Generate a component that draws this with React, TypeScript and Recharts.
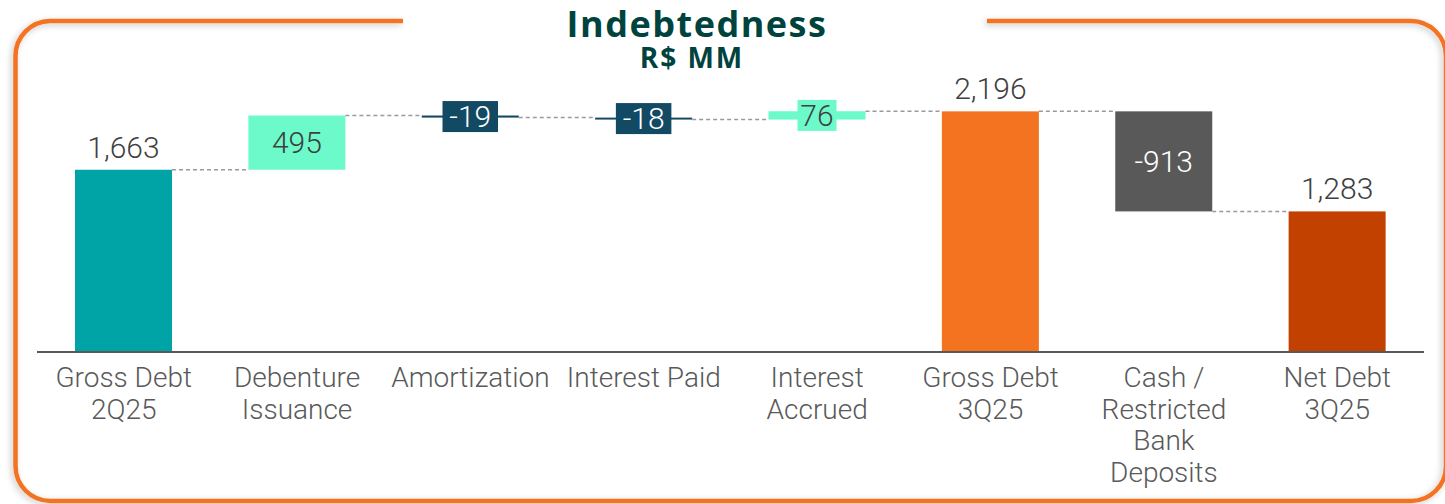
import React from 'react';
import { BarChart, Bar, XAxis, YAxis, LabelList } from 'recharts';

const categories = [
  'Gross Debt\n2Q25',
  'Debenture\nIssuance',
  'Amortization',
  'Interest Paid',
  'Interest\nAccrued',
  'Gross Debt\n3Q25',
  'Cash /\nRestricted\nBank\nDeposits',
  'Net Debt\n3Q25',
];
const values = [1663, 495, -19, -18, 76, 2196, -913, 1283];
const isTotal = [true, false, false, false, false, true, false, true];
const barColors = ['#00A3A6', '#6DFACB', '#124A63', '#124A63', '#6DFACB', '#F37321', '#595959', '#C24100'];
const labelColors = ['#404040', '#404040', '#FFFFFF', '#FFFFFF', '#404040', '#404040', '#FFFFFF', '#404040'];
const yDomain = [0, 2400];

const WIDTH = 1445;
const HEIGHT = 504;
const MARGIN = { top: 89, right: 21, bottom: 32, left: 37 };
const STEP = (WIDTH - MARGIN.left - MARGIN.right) / categories.length;
const FONT = 'Roboto, "Open Sans", sans-serif';

// waterfall rows: totals start at zero, deltas float on the running level
let level = 0;
const rows = categories.map((name, i) => {
  const start = isTotal[i] ? 0 : level;
  const end = isTotal[i] ? values[i] : level + values[i];
  level = end;
  return { name, range: [Math.min(start, end), Math.max(start, end)] };
});

function WaterfallBar(props: any) {
  const { x, y, width, height, index } = props;
  const endY = !isTotal[index] && values[index] < 0 ? y + height : y;
  return (
    <g>
      <rect x={x} y={y} width={width} height={Math.max(height, 1)} fill={barColors[index]} />
      {index < values.length - 1 && (
        <line
          x1={x + width}
          x2={x + STEP}
          y1={endY}
          y2={endY}
          stroke="#9a9a9a"
          strokeWidth={1.5}
          strokeDasharray="4 3"
        />
      )}
    </g>
  );
}

function ValueLabel(props: any) {
  const x = Number(props.x);
  const y = Number(props.y);
  const width = Number(props.width);
  const height = Number(props.height);
  const index = props.index;
  const text = values[index].toLocaleString('en-US');
  const cx = x + width / 2;
  if (isTotal[index]) {
    return (
      <text x={cx} y={y - 12} textAnchor="middle" fontSize={30} fontWeight={300} fontFamily={FONT} fill={labelColors[index]}>
        {text}
      </text>
    );
  }
  const cy = y + height / 2;
  const boxW = text.length * 16.5 + 6;
  return (
    <g>
      <rect x={cx - boxW / 2} y={cy - 15.5} width={boxW} height={31} fill={barColors[index]} />
      <text x={cx} y={cy + 10.5} textAnchor="middle" fontSize={30} fontWeight={300} fontFamily={FONT} fill={labelColors[index]}>
        {text}
      </text>
    </g>
  );
}

function CategoryTick(props: any) {
  const { x, y, payload } = props;
  const lines = String(payload.value).split('\n');
  return (
    <text x={x} y={y} textAnchor="middle" fontSize={28} fontWeight={300} fontFamily={FONT} fill="#595959">
      {lines.map((line, i) => (
        <tspan key={i} x={x} dy={i === 0 ? 35 : 31.5}>
          {line}
        </tspan>
      ))}
    </text>
  );
}

function Frame() {
  const d =
    'M 403 21 L 50 21 A 35 35 0 0 0 15.5 56 L 15.5 466 A 35 35 0 0 0 50.5 501 ' +
    'L 1411 501 A 35 35 0 0 0 1446 466 L 1446 56 A 35 35 0 0 0 1411 21 L 987 21';
  return (
    <svg width={WIDTH} height={HEIGHT} style={{ position: 'absolute', left: 0, top: 0 }}>
      <defs>
        <filter id="frameShadow" x="-5%" y="-5%" width="110%" height="110%">
          <feDropShadow dx={-2} dy={2} stdDeviation={3} floodColor="#000" floodOpacity={0.22} />
        </filter>
      </defs>
      <path d={d} fill="none" stroke="#F37321" strokeWidth={4.5} filter="url(#frameShadow)" />
      <text x={697} y={37} textAnchor="middle" fontSize={36} fontWeight={700} letterSpacing={1.5} fontFamily='"Open Sans", Lato, sans-serif' fill="#00433E">
        Indebtedness
      </text>
      <text x={692} y={68} textAnchor="middle" fontSize={28} fontWeight={700} letterSpacing={2} fontFamily='"Open Sans", Lato, sans-serif' fill="#00433E">
        R$ MM
      </text>
    </svg>
  );
}

export default function App() {
  return (
    <div style={{ position: 'absolute', left: 0, top: 0, width: WIDTH, height: HEIGHT, background: '#fff' }}>
      <Frame />
      <div style={{ position: 'absolute', left: 0, top: 0 }}>
        <BarChart width={WIDTH} height={HEIGHT} data={rows} margin={MARGIN}>
          <XAxis
            dataKey="name"
            height={120}
            interval={0}
            tickLine={false}
            tickSize={0}
            tickMargin={0}
            axisLine={{ stroke: '#595959', strokeWidth: 2 }}
            tick={<CategoryTick />}
          />
          <YAxis hide domain={yDomain} />
          <Bar dataKey="range" barSize={97} shape={<WaterfallBar />} isAnimationActive={false}>
            <LabelList dataKey="range" content={<ValueLabel />} />
          </Bar>
        </BarChart>
      </div>
    </div>
  );
}
